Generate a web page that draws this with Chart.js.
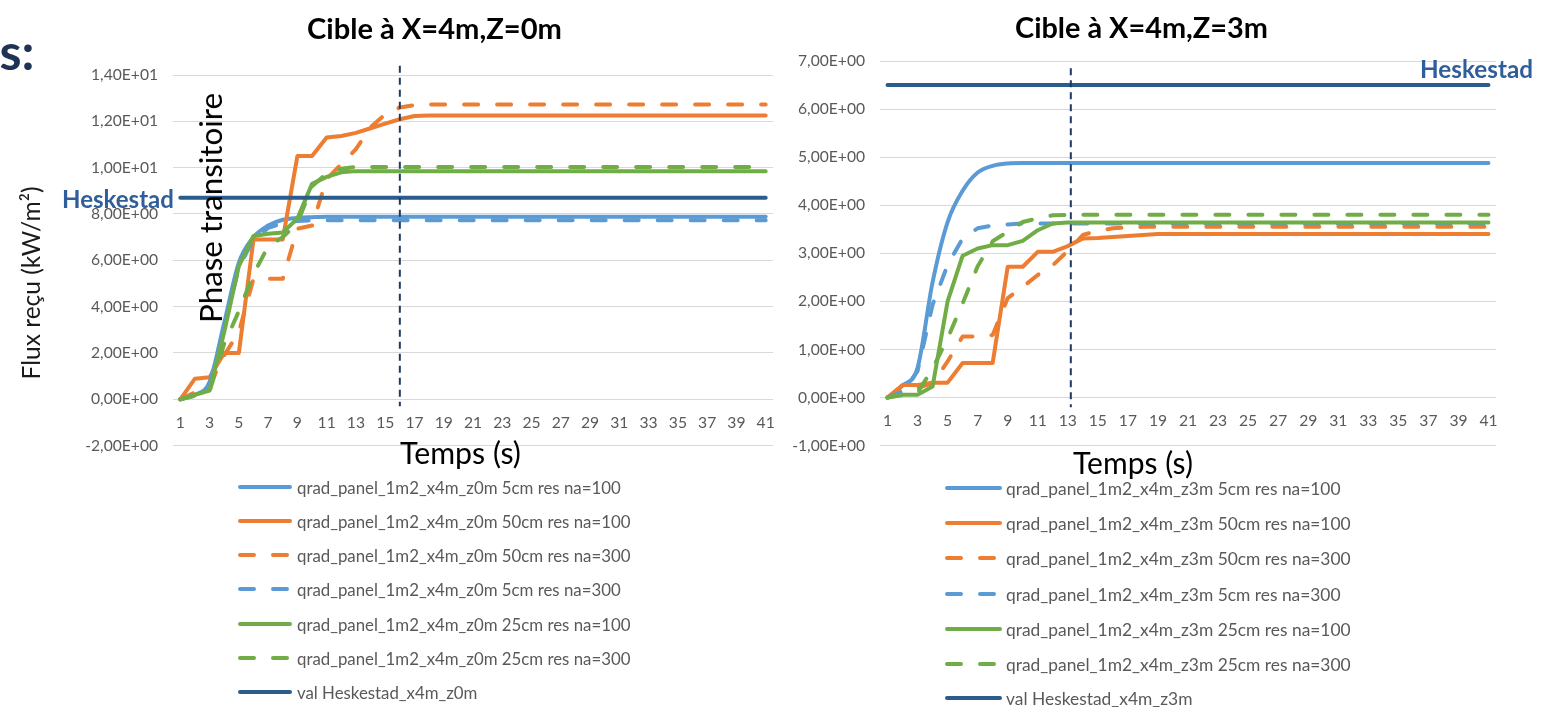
<!DOCTYPE html>
<html><head><meta charset="utf-8">
<script src="https://cdn.jsdelivr.net/npm/chart.js@4.4.1/dist/chart.umd.min.js"></script>
<style>
html,body{margin:0;padding:0;background:#fff;width:1548px;height:707px;overflow:hidden;}
.abs{position:absolute;white-space:nowrap;line-height:1;}
canvas{position:absolute;}
</style></head><body>
<canvas id="c1" width="790" height="470" style="left:0;top:0"></canvas>
<canvas id="c2" width="778" height="470" style="left:770px;top:0"></canvas>
<script>
// ---------- DATA ----------
const times = [1,2,3,4,5,6,7,8,9,10,11,12,13,14,15,16,17,18,19,20,21,22,23,24,25,26,27,28,29,30,31,32,33,34,35,36,37,38,39,40,41];

// Cible à X=4m, Z=0m
const z0_5cm_na100 = [0,0.2,0.75,3.3,5.9,7.0,7.5,7.75,7.83,7.86,
  7.88,7.88,7.88,7.88,7.88,7.88,7.88,7.88,7.88,7.88,
  7.88,7.88,7.88,7.88,7.88,7.88,7.88,7.88,7.88,7.88,
  7.88,7.88,7.88,7.88,7.88,7.88,7.88,7.88,7.88,7.88,7.88];
const z0_50cm_na100 = [0,0.89,0.95,2.0,2.0,6.9,6.9,6.9,10.5,10.5,
  11.3,11.37,11.5,11.7,11.9,12.09,12.23,12.25,12.25,12.25,
  12.25,12.25,12.25,12.25,12.25,12.25,12.25,12.25,12.25,12.25,
  12.25,12.25,12.25,12.25,12.25,12.25,12.25,12.25,12.25,12.25,12.25];
const z0_50cm_na300 = [0,0.3,0.6,1.9,2.9,5.2,5.2,5.2,7.36,7.5,
  9.5,10.15,10.8,11.75,12.3,12.6,12.7,12.73,12.73,12.73,
  12.73,12.73,12.73,12.73,12.73,12.73,12.73,12.73,12.73,12.73,
  12.73,12.73,12.73,12.73,12.73,12.73,12.73,12.73,12.73,12.73,12.73];
const z0_5cm_na300 = [0,0.2,0.7,3.1,5.7,6.9,7.4,7.6,7.7,7.72,
  7.73,7.73,7.73,7.73,7.73,7.73,7.73,7.73,7.73,7.73,
  7.73,7.73,7.73,7.73,7.73,7.73,7.73,7.73,7.73,7.73,
  7.73,7.73,7.73,7.73,7.73,7.73,7.73,7.73,7.73,7.73,7.73];
const z0_25cm_na100 = [0,0.19,0.38,2.9,5.75,7.05,7.15,7.2,7.8,9.3,
  9.6,9.8,9.85,9.85,9.85,9.85,9.85,9.85,9.85,9.85,
  9.85,9.85,9.85,9.85,9.85,9.85,9.85,9.85,9.85,9.85,
  9.85,9.85,9.85,9.85,9.85,9.85,9.85,9.85,9.85,9.85,9.85];
const z0_25cm_na300 = [0,0.15,0.35,2.4,3.8,5.4,6.6,7.0,7.6,9.2,
  9.75,9.95,10.03,10.03,10.03,10.03,10.03,10.03,10.03,10.03,
  10.03,10.03,10.03,10.03,10.03,10.03,10.03,10.03,10.03,10.03,
  10.03,10.03,10.03,10.03,10.03,10.03,10.03,10.03,10.03,10.03,10.03];
const z0_heskestad = [8.7,8.7,8.7,8.7,8.7,8.7,8.7,8.7,8.7,8.7,
  8.7,8.7,8.7,8.7,8.7,8.7,8.7,8.7,8.7,8.7,
  8.7,8.7,8.7,8.7,8.7,8.7,8.7,8.7,8.7,8.7,
  8.7,8.7,8.7,8.7,8.7,8.7,8.7,8.7,8.7,8.7,8.7];

// Cible à X=4m, Z=3m
const z3_5cm_na100 = [0,0.25,0.62,2.4,3.65,4.3,4.68,4.82,4.87,4.88,
  4.88,4.88,4.88,4.88,4.88,4.88,4.88,4.88,4.88,4.88,
  4.88,4.88,4.88,4.88,4.88,4.88,4.88,4.88,4.88,4.88,
  4.88,4.88,4.88,4.88,4.88,4.88,4.88,4.88,4.88,4.88,4.88];
const z3_50cm_na100 = [0,0.26,0.26,0.31,0.31,0.72,0.72,0.72,2.72,2.72,
  3.03,3.03,3.15,3.31,3.32,3.34,3.36,3.38,3.4,3.4,
  3.4,3.4,3.4,3.4,3.4,3.4,3.4,3.4,3.4,3.4,
  3.4,3.4,3.4,3.4,3.4,3.4,3.4,3.4,3.4,3.4,3.4];
const z3_50cm_na300 = [0,0.15,0.2,0.3,0.75,1.27,1.27,1.3,2.07,2.3,
  2.55,2.75,3.05,3.38,3.47,3.52,3.54,3.55,3.55,3.55,
  3.55,3.55,3.55,3.55,3.55,3.55,3.55,3.55,3.55,3.55,
  3.55,3.55,3.55,3.55,3.55,3.55,3.55,3.55,3.55,3.55,3.55];
const z3_5cm_na300 = [0,0.12,0.55,1.93,2.76,3.31,3.52,3.58,3.6,3.62,
  3.62,3.62,3.62,3.62,3.62,3.62,3.62,3.62,3.62,3.62,
  3.62,3.62,3.62,3.62,3.62,3.62,3.62,3.62,3.62,3.62,
  3.62,3.62,3.62,3.62,3.62,3.62,3.62,3.62,3.62,3.62,3.62];
const z3_25cm_na100 = [0,0.06,0.06,0.23,2.0,2.95,3.1,3.17,3.17,3.26,
  3.48,3.62,3.64,3.64,3.64,3.64,3.64,3.64,3.64,3.64,
  3.64,3.64,3.64,3.64,3.64,3.64,3.64,3.64,3.64,3.64,
  3.64,3.64,3.64,3.64,3.64,3.64,3.64,3.64,3.64,3.64,3.64];
const z3_25cm_na300 = [0,0.05,0.1,0.6,1.23,1.96,2.73,3.25,3.45,3.65,
  3.73,3.79,3.8,3.8,3.8,3.8,3.8,3.8,3.8,3.8,
  3.8,3.8,3.8,3.8,3.8,3.8,3.8,3.8,3.8,3.8,
  3.8,3.8,3.8,3.8,3.8,3.8,3.8,3.8,3.8,3.8,3.8];
const z3_heskestad = [6.5,6.5,6.5,6.5,6.5,6.5,6.5,6.5,6.5,6.5,
  6.5,6.5,6.5,6.5,6.5,6.5,6.5,6.5,6.5,6.5,
  6.5,6.5,6.5,6.5,6.5,6.5,6.5,6.5,6.5,6.5,
  6.5,6.5,6.5,6.5,6.5,6.5,6.5,6.5,6.5,6.5,6.5];

const labelsZ0 = ['qrad_panel_1m2_x4m_z0m 5cm res na=100','qrad_panel_1m2_x4m_z0m 50cm res na=100','qrad_panel_1m2_x4m_z0m 50cm res na=300','qrad_panel_1m2_x4m_z0m 5cm res na=300','qrad_panel_1m2_x4m_z0m 25cm res na=100','qrad_panel_1m2_x4m_z0m 25cm res na=300','val Heskestad_x4m_z0m'];
const labelsZ3 = ['qrad_panel_1m2_x4m_z3m 5cm res na=100','qrad_panel_1m2_x4m_z3m 50cm res na=100','qrad_panel_1m2_x4m_z3m 50cm res na=300','qrad_panel_1m2_x4m_z3m 5cm res na=300','qrad_panel_1m2_x4m_z3m 25cm res na=100','qrad_panel_1m2_x4m_z3m 25cm res na=300','val Heskestad_x4m_z3m'];

const transitionEndZ0 = 16;   // seconds
const transitionEndZ3 = 13.2; // seconds

// ---------- STYLE ----------
const FAM = 'Lato, "Open Sans", sans-serif';
const STY = [
  {c:'#5B9BD5', dash:false, smooth:true},
  {c:'#ED7D31', dash:false},
  {c:'#ED7D31', dash:true},
  {c:'#5B9BD5', dash:true},
  {c:'#70AD47', dash:false},
  {c:'#70AD47', dash:true},
  {c:'#2B5C8E', dash:false}
];
const DASH = [14,19];

const mctx = document.createElement('canvas').getContext('2d');
function fitSize(text, weight, target){
  mctx.font = weight + ' 100px ' + FAM;
  return 100 * target / mctx.measureText(text).width;
}
function addText(txt, o){
  const d = document.createElement('div');
  d.className = 'abs';
  d.textContent = txt;
  const w = o.weight || 400;
  const size = o.size || fitSize(txt, w, o.w);
  d.style.font = w + ' ' + size + 'px ' + FAM;
  d.style.color = o.color || '#000';
  d.style.left = o.cx + 'px';
  d.style.top = o.cy + 'px';
  d.style.transform = 'translate(-50%,-50%)' + (o.rot ? ' rotate(-90deg)' : '');
  document.body.appendChild(d);
}
function buildLegend(labels, rowsY, sx0, sx1, tx, target){
  const size = fitSize(labels[0], 400, target);
  labels.forEach((lab, i) => {
    const ns = 'http://www.w3.org/2000/svg';
    const svg = document.createElementNS(ns, 'svg');
    svg.setAttribute('width', sx1 - sx0); svg.setAttribute('height', 8);
    svg.style.position = 'absolute'; svg.style.left = sx0 + 'px'; svg.style.top = (rowsY[i] - 4) + 'px';
    const ln = document.createElementNS(ns, 'line');
    ln.setAttribute('x1', 2); ln.setAttribute('x2', sx1 - sx0 - 2);
    ln.setAttribute('y1', 4); ln.setAttribute('y2', 4);
    ln.setAttribute('stroke', STY[i].c); ln.setAttribute('stroke-width', 4);
    ln.setAttribute('stroke-linecap', 'round');
    if (STY[i].dash) ln.setAttribute('stroke-dasharray', DASH.join(' '));
    svg.appendChild(ln); document.body.appendChild(svg);
    const d = document.createElement('div');
    d.className = 'abs'; d.textContent = lab;
    d.style.font = '400 ' + size + 'px ' + FAM; d.style.color = '#595959';
    d.style.left = tx + 'px'; d.style.top = rowsY[i] + 'px'; d.style.transform = 'translateY(-50%)';
    document.body.appendChild(d);
  });
}
function fmtE(v){
  if (Math.abs(v) < 1e-9) return '0,00E+00';
  const s = v.toExponential(2);
  const parts = s.split('e');
  const e = parseInt(parts[1], 10);
  return parts[0].replace('.', ',') + 'E' + (e < 0 ? '-' : '+') + String(Math.abs(e)).padStart(2, '0');
}
const TICK = fitSize('1,40E+01', 400, 67);

const vlinePlugin = {
  id: 'vline',
  afterDatasetsDraw(chart, args, o){
    const x = chart.scales.x.getPixelForValue(o.at - times[0]);
    const y = chart.scales.y;
    const ctx = chart.ctx;
    ctx.save();
    ctx.strokeStyle = '#1F3864'; ctx.lineWidth = 2; ctx.setLineDash([7,5]);
    ctx.beginPath(); ctx.moveTo(x, y.getPixelForValue(o.top)); ctx.lineTo(x, y.getPixelForValue(o.bottom)); ctx.stroke();
    ctx.restore();
  }
};

function makeChart(id, series, labels, yMin, yMax, step, pad, yW, vl){
  return new Chart(document.getElementById(id), {
    type: 'line',
    data: {
      labels: times,
      datasets: series.map((d, i) => ({
        label: labels[i], data: d, borderColor: STY[i].c, backgroundColor: STY[i].c,
        borderWidth: 4, borderDash: STY[i].dash ? DASH : [], borderCapStyle: 'round', borderJoinStyle: 'round',
        pointRadius: 0, tension: 0, cubicInterpolationMode: STY[i].smooth ? 'monotone' : 'default',
        fill: false, order: 10 - i
      }))
    },
    options: {
      responsive: false, animation: false, events: [],
      layout: {padding: pad},
      plugins: {legend: {display: false}, tooltip: {enabled: false}, title: {display: false}, vline: vl},
      scales: {
        x: {
          type: 'category', offset: true, position: {y: 0},
          grid: {display: false, drawTicks: false}, border: {display: false},
          ticks: {autoSkip: false, maxRotation: 0, minRotation: 0, padding: 14, color: '#595959',
            font: {family: FAM, size: TICK},
            callback: function(v, i){ return i % 2 === 0 ? this.getLabelForValue(v) : ''; }}
        },
        y: {
          min: yMin, max: yMax,
          grid: {color: '#d9d9d9', lineWidth: 1, drawTicks: false}, border: {display: false},
          ticks: {stepSize: step, padding: 15, color: '#595959', font: {family: FAM, size: TICK}, callback: fmtE},
          afterFit(s){ s.width = yW; }
        }
      }
    },
    plugins: [vlinePlugin]
  });
}

makeChart('c1', [z0_5cm_na100, z0_50cm_na100, z0_50cm_na300, z0_5cm_na300, z0_25cm_na100, z0_25cm_na300, z0_heskestad],
  labelsZ0, -2, 14, 2, {top: 75, bottom: 22, right: 17, left: 0}, 173, {at: transitionEndZ0, top: 14.4, bottom: -0.3});
makeChart('c2', [z3_5cm_na100, z3_50cm_na100, z3_50cm_na300, z3_5cm_na300, z3_25cm_na100, z3_25cm_na300, z3_heskestad],
  labelsZ3, -1, 7, 1, {top: 61, bottom: 22, right: 52, left: 0}, 110, {at: transitionEndZ3, top: 6.85, bottom: -0.2});

// ---------- TEXT ----------
addText('s:', {cx: 17, cy: 50, w: 35, weight: 700, color: '#1F3454'});
addText('Cible à X=4m,Z=0m', {cx: 434.5, cy: 27, w: 255, weight: 700});
addText('Cible à X=4m,Z=3m', {cx: 1141.5, cy: 27, w: 253, weight: 700});
addText('Heskestad', {cx: 118, cy: 198, w: 112, weight: 700, color: '#2F5E9A'});
addText('Heskestad', {cx: 1476.5, cy: 68, w: 113, weight: 700, color: '#2F5E9A'});
addText('Phase transitoire', {cx: 210, cy: 208, w: 230, rot: true});
addText('Flux reçu (kW/m²)', {cx: 30, cy: 283, w: 193, rot: true, color: '#1a1a1a'});
addText('Temps (s)', {cx: 460.5, cy: 452, w: 121});
addText('Temps (s)', {cx: 1133, cy: 462, w: 120});

buildLegend(labelsZ0, [487, 521, 555, 589, 624, 658, 692], 238, 292, 297, 324);
buildLegend(labelsZ3, [488, 523, 558, 594, 629, 664, 698], 945, 1002, 1006, 335);
</script>
</body></html>
